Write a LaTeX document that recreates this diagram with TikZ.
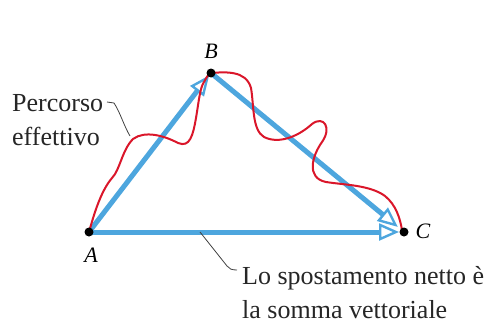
\documentclass[tikz,border=0pt]{standalone}
\usepackage{fontspec}
\setmainfont{Liberation Serif}
\usetikzlibrary{arrows.meta}
\definecolor{vecblue}{RGB}{77,166,222}
\definecolor{pathred}{RGB}{218,22,42}
\begin{document}
\begin{tikzpicture}[x=1pt,y=-1pt,
  vec/.style={draw=vecblue,line width=5pt,
    -{Triangle[fill=white,length=20pt,width=17pt,line width=2.4pt]}},
  route/.style={draw=pathred,line width=2pt,line cap=round,line join=round},
  leader/.style={draw=black!75,line width=0.8pt},
  dot/.style={circle,fill=black,inner sep=0pt,minimum size=9pt},
  ptlabel/.style={font=\fontsize{22}{24}\selectfont\itshape,inner sep=0pt},
  note/.style={font=\fontsize{26}{34}\selectfont,align=left,inner sep=0pt,anchor=base west,text=black!85}]
\useasboundingbox (0,0) rectangle (488,324);
% points
\coordinate (A) at (89,232);
\coordinate (B) at (211,73);
\coordinate (C) at (404,232);
% vectors
\draw[vec,shorten >=3pt] (A) -- (B);
\draw[vec,shorten >=5pt] (A) -- (C);
\draw[vec,shorten >=8pt] (B) -- (C);
% actual route
\draw[route] (A)
  .. controls (93,218) and (100,192) .. (112,178)
  .. controls (120,170) and (122,150) .. (133,139)
  .. controls (145,130) and (165,136) .. (178,143)
  .. controls (190,148) and (193,135) .. (196,118)
  .. controls (199,100) and (200,88) .. (204,82)
  .. controls (207,76) and (209,74) .. (B)
  .. controls (225,72) and (246,70) .. (251,88)
  .. controls (254,105) and (252,130) .. (264,137)
  .. controls (280,145) and (300,135) .. (312,124)
  .. controls (324,115) and (332,128) .. (322,142)
  .. controls (312,156) and (306,178) .. (326,182)
  .. controls (345,185) and (370,185) .. (385,196)
  .. controls (396,205) and (400,218) .. (402,230);
% dots
\node[dot] (dA) at (A) {};
\node[dot] (dB) at (B) {};
\node[dot] (dC) at (C) {};
\node[ptlabel] (lA) at (91,255) {A};
\node[ptlabel] (lB) at (211,51) {B};
\node[ptlabel] (lC) at (423,231) {C};
% labels
\node[note] (perc) at (12,145) {Percorso\\effettivo};
\node[note] (sum) at (242,318) {Lo spostamento netto è\\la somma vettoriale};
\coordinate (leadA1) at (107,102);
\coordinate (leadA2) at (130,136);
\draw[leader] (leadA1) -- (114,103) .. controls (120,112) and (124,126) .. (leadA2);
\coordinate (leadB1) at (200,232);
\coordinate (leadB2) at (237,270);
\draw[leader] (leadB1) -- (227,266) .. controls (229,269) and (232,270) .. (leadB2);
\end{tikzpicture}
\end{document}
